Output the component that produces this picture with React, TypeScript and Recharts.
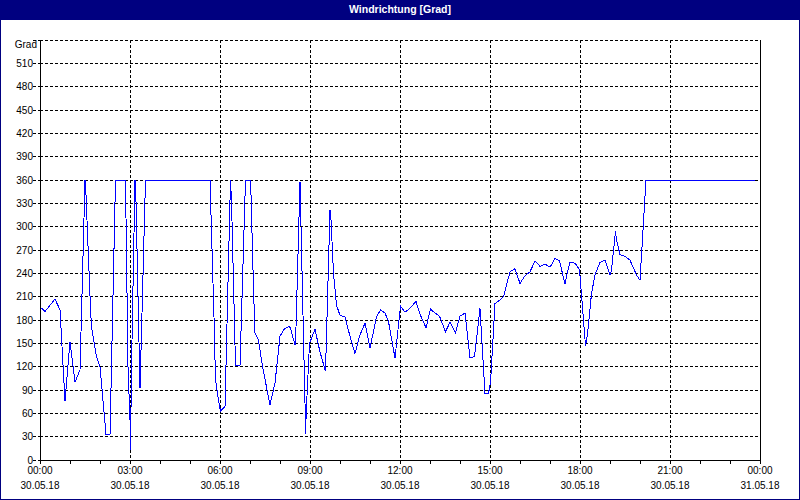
import { LineChart, Line, XAxis, YAxis, CartesianGrid } from 'recharts';

// minutes since 30.05.18 00:00
const times = [
  0, 10, 30, 40, 50, 60, 70, 80, 90, 92, 101, 103, 113, 120, 132, 140, 151, 171, 176, 180,
  181, 183, 190, 192, 200, 211, 340, 348, 351, 358, 361, 370, 381, 383, 391, 400, 411, 420, 422, 427,
  430, 437, 445, 460, 470, 480, 488, 499, 501, 510, 512, 520, 530, 531, 533, 539, 550, 560, 571, 580,
  582, 587, 593, 600, 610, 620, 630, 640, 650, 660, 673, 681, 690, 697, 710, 721, 730, 740, 752, 759,
  772, 781, 790, 799, 811, 820, 831, 840, 850, 860, 869, 880, 890, 897, 901, 910, 920, 927, 940, 950,
  960, 970, 980, 990, 1000, 1010, 1020, 1030, 1039, 1050, 1055, 1060, 1070, 1079, 1091, 1095, 1103, 1110, 1120, 1130,
  1140, 1143, 1151, 1153, 1160, 1170, 1180, 1193, 1200, 1212, 1430,
];

// Windrichtung in Grad
const direction = [
  197, 191, 207, 193, 76, 152, 100, 116, 360, 341, 195, 171, 133, 120, 33, 33, 360, 360, 120, 51,
  13, 120, 360, 332, 92, 360, 360, 184, 103, 73, 63, 69, 360, 334, 122, 122, 360, 360, 341, 221,
  163, 154, 120, 71, 99, 159, 168, 172, 169, 148, 171, 358, 73, 34, 69, 150, 168, 139, 114, 322,
  309, 240, 199, 186, 184, 159, 137, 161, 176, 144, 184, 193, 189, 178, 131, 198, 190, 195, 204, 189,
  170, 194, 189, 185, 165, 177, 164, 185, 189, 131, 133, 195, 85, 86, 99, 201, 206, 210, 242, 246,
  227, 237, 242, 256, 249, 252, 248, 259, 256, 226, 242, 254, 253, 245, 147, 161, 214, 238, 254, 257,
  238, 244, 294, 283, 264, 262, 257, 238, 231, 360, 360,
];

const hourTicks = [
  0, 60, 120, 180, 240, 300, 360, 420, 480, 540, 600, 660, 720, 780, 840, 900, 960, 1020, 1080, 1140,
  1200, 1260, 1320, 1380, 1440,
];
const majorTicks = [0, 180, 360, 540, 720, 900, 1080, 1260, 1440];
const timeLabels = ['00:00', '03:00', '06:00', '09:00', '12:00', '15:00', '18:00', '21:00', '00:00'];
const dateLabels = ['30.05.18', '30.05.18', '30.05.18', '30.05.18', '30.05.18', '30.05.18', '30.05.18', '30.05.18', '31.05.18'];

const gradTicks = [0, 30, 60, 90, 120, 150, 180, 210, 240, 270, 300, 330, 360, 390, 420, 450, 480, 510, 540];
const gradLabels = ['0', '30', '60', '90', '120', '150', '180', '210', '240', '270', '300', '330', '360', '390', '420', '450', '480', '510', 'Grad'];

const compassTicks = [0, 45, 90, 135, 180, 225, 270, 315, 360, 405, 450, 495, 540];
const compassLabels = ['N', 'NE', 'E', 'SE', 'S', 'SW', 'W', 'NW', 'N', 'NE', 'E', 'SE', 'S'];

const FONT = 'Tahoma, "Liberation Sans", Arial, sans-serif';

const chartData = times.map((t, i) => ({ t, v: direction[i] }));

function LeftTick({ x, y, payload }: any) {
  const i = gradTicks.indexOf(payload.value);
  const isUnit = payload.value === 540;
  return (
    <text x={isUnit ? x + 4 : x} y={y} dy={isUnit ? 8 : 3.5} textAnchor="end"
      fontSize={10} fontFamily={FONT} fill="#000">
      {gradLabels[i]}
    </text>
  );
}

function RightTick({ x, y, payload }: any) {
  const i = compassTicks.indexOf(payload.value);
  return (
    <text x={x} y={y} dy={3.5} textAnchor="start" fontSize={10} fontFamily={FONT} fill="#000">
      {compassLabels[i]}
    </text>
  );
}

function TimeTick({ x, y, payload }: any) {
  const i = majorTicks.indexOf(payload.value);
  if (i < 0) return <g />;
  return (
    <g>
      <text x={x} y={y} dy={8} textAnchor="middle" fontSize={10} fontFamily={FONT} fill="#000">
        {timeLabels[i]}
      </text>
      <text x={x} y={y} dy={23} textAnchor="middle" fontSize={10} fontFamily={FONT} fill="#000">
        {dateLabels[i]}
      </text>
    </g>
  );
}

export default function App() {
  return (
    <div style={{ position: 'absolute', left: 0, top: 0, width: 800, height: 500, background: '#fff', shapeRendering: 'crispEdges' }}>
      <LineChart width={800} height={500} data={chartData}
        margin={{ top: 40, right: 0, bottom: 0, left: 0 }}>
        <XAxis dataKey="t" type="number" domain={[0, 1440]} ticks={hourTicks} interval={0}
          height={40} tickSize={4} tickMargin={2}
          axisLine={{ stroke: '#000' }} tickLine={{ stroke: '#000' }} tick={<TimeTick />} />
        <XAxis xAxisId="grid" dataKey="t" type="number" domain={[0, 1440]} ticks={majorTicks} hide />
        <XAxis xAxisId="top" orientation="top" dataKey="t" type="number" domain={[0, 1440]}
          height={0} tick={false} tickLine={false} axisLine={{ stroke: '#000' }} />
        <YAxis yAxisId={0} domain={[0, 540]} ticks={gradTicks} interval={0} width={40}
          tickSize={7} tickMargin={0} axisLine={{ stroke: '#000' }}
          tickLine={{ stroke: '#000', strokeDasharray: '3 2' }} tick={<LeftTick />} />
        <YAxis yAxisId="right" orientation="right" domain={[0, 540]} ticks={compassTicks} interval={0}
          width={40} tickSize={4} tickMargin={1} axisLine={{ stroke: '#000' }}
          tickLine={{ stroke: '#000', strokeDasharray: '3 2' }} tick={<RightTick />} />
        <CartesianGrid xAxisId="grid" yAxisId={0} stroke="#000" strokeDasharray="3 2" />
        <Line xAxisId={0} yAxisId={0} type="linear" dataKey="v" stroke="#0000ff" strokeWidth={1}
          dot={false} activeDot={false} isAnimationActive={false} />
      </LineChart>
      <div style={{
        position: 'absolute', left: 0, top: 0, width: 800, height: 20, background: '#000080',
        color: '#fff', fontFamily: FONT, fontWeight: 'bold', fontSize: 10.5, lineHeight: '19px', textAlign: 'center',
      }}>
        Windrichtung [Grad]
      </div>
      <div style={{
        position: 'absolute', left: 0, top: 0, width: 800, height: 500, boxSizing: 'border-box',
        border: '1px solid #000080', pointerEvents: 'none',
      }} />
    </div>
  );
}
